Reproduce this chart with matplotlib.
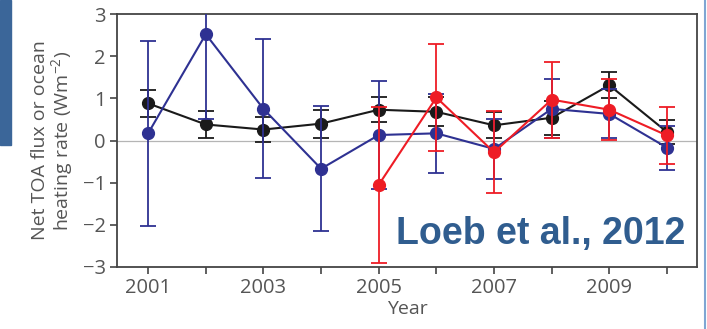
import numpy as np
import matplotlib.pyplot as plt
from matplotlib.patches import Rectangle
from matplotlib.lines import Line2D

plt.rcParams["font.family"] = ["Open Sans", "DejaVu Sans"]

years = [2001, 2002, 2003, 2004, 2005, 2006, 2007, 2008, 2009, 2010]

# black series
black_y = [0.88, 0.38, 0.26, 0.40, 0.73, 0.68, 0.36, 0.54, 1.31, 0.20]
black_err = [0.32, 0.32, 0.30, 0.33, 0.30, 0.34, 0.31, 0.40, 0.31, 0.28]

# blue series
blue_y = [0.17, 2.52, 0.75, -0.67, 0.13, 0.17, -0.20, 0.75, 0.63, -0.17]
blue_err = [2.20, 2.00, 1.65, 1.48, 1.28, 0.93, 0.72, 0.70, 0.58, 0.52]

# red series
red_years = [2005, 2006, 2007, 2008, 2009, 2010]
red_y = [-1.05, 1.02, -0.28, 0.97, 0.73, 0.12]
red_err = [1.85, 1.28, 0.97, 0.90, 0.72, 0.68]

odd_years = [2001, 2003, 2005, 2007, 2009]

fig = plt.figure(figsize=(7.07, 3.29), dpi=100)
ax = fig.add_axes([117 / 707, 1 - 267 / 329, 580 / 707, 253 / 329])

ax.axhline(0, color='#b5b5b5', lw=0.9, zorder=1)

series = [
    (years, black_y, black_err, '#1a1a1a'),
    (years, blue_y, blue_err, '#2e3192'),
    (red_years, red_y, red_err, '#ee1c25'),
]
for i, (x, y, e, c) in enumerate(series):
    ax.errorbar(x, y, yerr=e, color=c, ecolor=c, lw=1.5, elinewidth=1.3,
                capsize=6, capthick=1.3, marker='o', markersize=8.5,
                zorder=3 + i)

ax.set_xlim(2000.46, 2010.52)
ax.set_ylim(-3, 3)
ax.set_yticks([-3, -2, -1, 0, 1, 2, 3])
ax.set_yticklabels(['\u22123', '\u22122', '\u22121', '0', '1', '2', '3'])
ax.set_xticks(years)
ax.set_xticklabels([str(yr) if yr in odd_years else '' for yr in years])

for s in ax.spines.values():
    s.set_color('#444444')
    s.set_linewidth(1.3)
ax.tick_params(direction='out', length=5, width=1.2, color='#444444',
               labelsize=14.5, labelcolor='#555555', pad=3)

ax.set_xlabel('Year', fontsize=14, color='#555555', labelpad=1)
ax.set_ylabel('Net TOA flux or ocean\nheating rate (Wm$^{\\mathregular{-2}}$)',
              fontsize=14, color='#555555', labelpad=5, linespacing=1.0)

ax.text(0.98, 0.13, 'Loeb et al., 2012', transform=ax.transAxes,
        ha='right', va='center', fontsize=27, fontweight='bold',
        color='#305d8f', family='Liberation Sans', zorder=10)

# slide decorations
fig.patches.append(Rectangle((0, 1 - 145 / 329), 11 / 707, 145 / 329,
                             transform=fig.transFigure, color='#3b6699',
                             zorder=0))
fig.lines.append(Line2D([705 / 707, 705 / 707], [0, 1],
                        transform=fig.transFigure, color='#7fa6d3', lw=1.5))

fig.savefig('out.png', dpi=100)
